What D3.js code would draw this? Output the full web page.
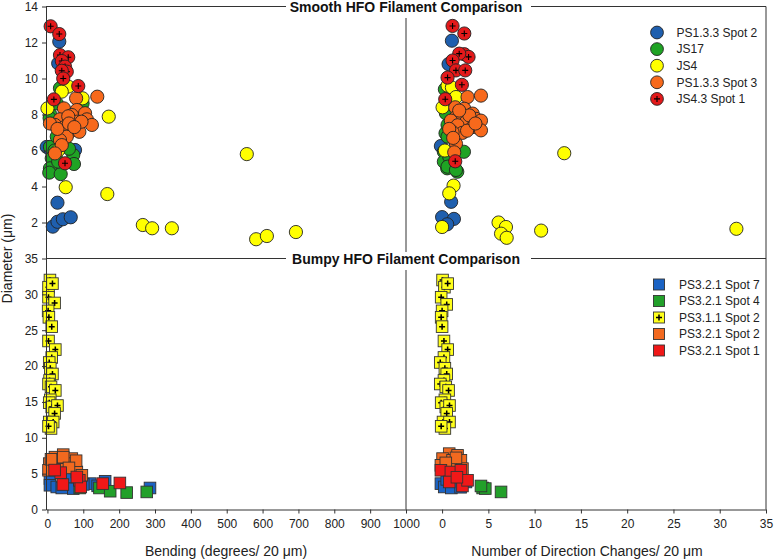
<!DOCTYPE html>
<html><head><meta charset="utf-8">
<script src="https://cdn.jsdelivr.net/npm/d3@7/dist/d3.min.js"></script>
<style>body{margin:0;background:#fff}svg{display:block;font-family:"Liberation Sans",Arial,sans-serif}</style>
</head><body><svg id="c" width="774" height="560"></svg>
<script>
// ---------- DATA ----------
const smoothNames = ["PS1.3.3 Spot 2","JS17","JS4","PS1.3.3 Spot 3","JS4.3 Spot 1"];
const bumpyNames = ["PS3.2.1 Spot 7","PS3.2.1 Spot 4","PS3.1.1 Spot 2","PS3.2.1 Spot 2","PS3.2.1 Spot 1"];
const colors = ["#1f5fae","#1fa324","#ffff00","#f7691c","#e3191a"];
const bumpyColors = ["#1b63c4","#22a02a","#ffff1a","#f2691f","#f01818"];
const smoothTicksY = [2,4,6,8,10,12,14];
const bumpyTicksY = [0,5,10,15,20,25,30,35];
const bendTicks = [0,100,200,300,400,500,600,700,800,900,1000];
const dirTicks = [0,5,10,15,20,25,30,35];

// Smooth, bending vs diameter
const sBend_PS133S2 = [[33,12.05],[30,10.84],[-2,6.2],[77,6.03],[28,3.1],[15,1.77],[28,2.04],[43,2.18],[65,2.29],[10,6.0],[20,5.9]];
const sBend_JS17 = [[35,9.46],[26,8.62],[98,8.62],[9,7.97],[6,7.8],[7,6.2],[12,5.57],[7,5.01],[5,4.77],[37,4.69],[30,5.38],[72,5.75],[74,5.25],[26,6.77],[20,6.0],[60,6.1]];
const sBend_JS4 = [[171,7.88],[556,5.8],[167,3.58],[266,1.86],[292,1.68],[347,1.68],[582,1.07],[612,1.25],[693,1.47],[51,3.96],[0,8.34],[58,9.55],[40,9.27],[98,8.9],[30,6.0]];
const sBend_PS133S3 = [[139,8.99],[80,8.9],[46,8.34],[82,8.25],[105,8.07],[68,7.97],[35,7.73],[110,7.73],[82,7.6],[124,7.42],[21,7.42],[7,7.5],[49,7.32],[65,7.08],[89,7.04],[40,6.96],[54,6.77],[35,6.58],[40,6.3],[21,5.84],[58,7.9],[95,7.6],[28,7.2],[60,7.5],[75,7.3]];
const sBend_JS43S1 = [[9,12.9],[33,12.47],[35,11.3],[58,11.18],[40,10.97],[49,10.66],[54,10.38],[40,10.43],[44,10.0],[86,9.58],[18,8.84],[49,5.29]];

// Smooth, direction changes vs diameter
const sDir_PS133S2 = [[1.06,12.1],[0.7,10.8],[-0.13,6.25],[0.98,3.15],[0,2.3],[1.28,2.2],[0.55,1.9],[1.5,6.0]];
const sDir_JS17 = [[0.37,6.96],[0.19,5.93],[2.36,5.93],[0.55,5.01],[1.64,4.82],[1.09,5.29],[0.19,5.38],[0.59,7.42],[0.41,8.07],[0.59,6.77],[0.77,5.66],[0.59,5.1],[1.5,4.92],[0.3,9.4],[0.8,8.6]];
const sDir_JS4 = [[13.2,5.85],[6.1,2.0],[6.9,1.75],[6.37,1.38],[6.98,1.15],[10.7,1.55],[31.8,1.65],[0,1.75],[1.24,4.05],[0.77,3.62],[0.05,8.4],[0.59,9.6],[1.06,9.5],[1.5,8.97],[0.3,6.0]];
const sDir_PS133S3 = [[4.2,9.05],[2.75,8.97],[1.42,8.4],[2.4,8.32],[3.3,8.05],[1.5,7.86],[3.66,7.76],[2.0,7.66],[2.58,7.58],[0.95,7.66],[4.2,7.66],[1.67,7.4],[3.3,7.3],[4.2,7.12],[2.2,6.98],[1.13,7.02],[1.5,6.38],[1.31,5.9],[0.77,7.2],[2.94,7.95],[1.85,8.22],[2.7,7.1],[3.6,7.5],[1.2,6.7]];
const sDir_JS43S1 = [[1.13,12.92],[2.4,12.5],[2.4,11.35],[2.86,11.2],[1.85,11.38],[1.13,11.0],[1.5,10.45],[2.5,10.45],[0.59,10.05],[2.14,9.65],[0.34,8.85],[1.42,5.4]];

// Bumpy, bending vs diameter
const bBend_S7 = [[7,4.31],[7,3.38],[26,3.14],[63,3.38],[72,2.92],[119,3.61],[161,3.94],[286,3.0],[58,4.53],[40,3.0],[100,3.5],[140,3.3]];
const bBend_S4 = [[145,3.0],[175,2.55],[221,2.36],[277,2.45],[90,3.0]];
const bBend_PS311S2 = [[7,32.0],[3,31.0],[14,31.5],[3,29.6],[20,28.8],[2,27.7],[4,26.8],[12,25.5],[3,23.5],[22,22.3],[12,21.2],[5,20.5],[8,19.7],[14,18.9],[6,18.0],[3,17.5],[10,17.1],[22,16.6],[8,15.3],[5,14.9],[12,14.3],[28,14.5],[20,13.4],[5,12.2],[16,12.2],[10,11.3],[3,11.6]];
const bBend_S2 = [[21,7.3],[44,7.65],[68,7.1],[5,6.4],[26,6.26],[65,6.26],[3,5.47],[82,5.23],[96,4.77],[54,6.4],[21,6.85],[44,7.3],[80,6.8],[35,5.6],[60,5.8],[10,7.0]];
const bBend_S1 = [[37,5.14],[43,3.48],[89,4.07],[93,3.14],[154,3.61],[202,3.7],[82,4.53],[20,5.5]];

// Bumpy, direction changes vs diameter
const bDir_S7 = [[-0.13,3.61],[0.23,3.14],[1.5,3.38],[2.58,3.84],[0.5,4.2],[1.0,3.0],[2.0,3.1]];
const bDir_S4 = [[4.38,3.0],[4.67,2.92],[6.37,2.45],[4.2,3.28]];
const bDir_PS311S2 = [[0.05,32.0],[0.25,31.0],[0.6,31.5],[-0.1,29.6],[0.5,28.6],[0,27.7],[-0.1,26.8],[0,25.5],[0.2,23.5],[0.6,22.3],[0.2,21.2],[-0.2,20.5],[0.3,19.7],[0.5,18.9],[0.2,18.0],[-0.2,17.5],[0.4,17.1],[0.7,16.6],[0.3,15.3],[-0.1,14.9],[0.4,14.3],[0.8,14.5],[0.5,13.4],[0.1,12.2],[0.8,12.2],[0.3,11.3],[-0.1,11.6]];
const bDir_S2 = [[0.77,7.79],[1.67,7.55],[0.05,7.1],[1.13,6.86],[2.03,6.86],[-0.13,6.16],[0.95,5.93],[2.2,5.7],[1.5,7.2],[0.4,6.5]];
const bDir_S1 = [[-0.13,5.47],[0.95,5.23],[2.03,5.47],[0.77,3.84],[2.2,3.28],[2.75,4.07],[1.6,4.5]];

// ---------- CHART ----------
const svg = d3.select("#c");
const L = 46, M = 406, R = 766, T = 6.5, MID = 258.5, B = 509.5;
const xBend = d3.scaleLinear().domain([-4,1000]).range([L,M]);
const xDir = d3.scaleLinear().domain([-3.9,35]).range([M,R]);
const yS = d3.scaleLinear().domain([0,14]).range([MID,T]);
const yB = d3.scaleLinear().domain([0,35]).range([B,MID]);
const lineCol = "#333", txtCol = "#222";

const pts = svg.append("g");
function drawCircles(data, xs, ys, col, plus){
  const g = pts.append("g");
  data.forEach(d=>{
    const cx = xs(d[0]), cy = ys(d[1]);
    g.append("circle").attr("cx",cx).attr("cy",cy).attr("r",6.6)
      .attr("fill",col).attr("stroke","#222").attr("stroke-width",0.9);
    if(plus){
      g.append("path").attr("d",`M${cx-3},${cy}H${cx+3}M${cx},${cy-3}V${cy+3}`)
        .attr("stroke","#000").attr("stroke-width",1.1);
    }
  });
}
function drawSquares(data, xs, ys, col, plus){
  const g = pts.append("g");
  data.forEach(d=>{
    const cx = xs(d[0]), cy = ys(d[1]);
    g.append("rect").attr("x",cx-5.8).attr("y",cy-5.8).attr("width",11.6).attr("height",11.6)
      .attr("fill",col).attr("stroke","#333").attr("stroke-width",0.9);
    if(plus){
      g.append("path").attr("d",`M${cx-3},${cy}H${cx+3}M${cx},${cy-3}V${cy+3}`)
        .attr("stroke","#000").attr("stroke-width",1.5);
    }
  });
}
const sB = [sBend_PS133S2,sBend_JS17,sBend_JS4,sBend_PS133S3,sBend_JS43S1];
const sD = [sDir_PS133S2,sDir_JS17,sDir_JS4,sDir_PS133S3,sDir_JS43S1];
const bB = [bBend_S7,bBend_S4,bBend_PS311S2,bBend_S2,bBend_S1];
const bD = [bDir_S7,bDir_S4,bDir_PS311S2,bDir_S2,bDir_S1];
sB.forEach((d,i)=>drawCircles(d,xBend,yS,colors[i],i===4));
sD.forEach((d,i)=>drawCircles(d,xDir,yS,colors[i],i===4));
bB.forEach((d,i)=>drawSquares(d,xBend,yB,bumpyColors[i],i===2));
bD.forEach((d,i)=>drawSquares(d,xDir,yB,bumpyColors[i],i===2));

// frame lines
const fr = svg.append("g").attr("stroke",lineCol).attr("stroke-width",1).attr("fill","none");
fr.append("line").attr("x1",L).attr("x2",R).attr("y1",T).attr("y2",T);
fr.append("line").attr("x1",L).attr("x2",R).attr("y1",MID).attr("y2",MID);
fr.append("line").attr("x1",R).attr("x2",R).attr("y1",T).attr("y2",B);
fr.append("line").attr("x1",M).attr("x2",M).attr("y1",T).attr("y2",B);

// axes
function styleAxis(g){
  g.selectAll("path,line").attr("stroke",lineCol);
  g.selectAll("text").attr("fill",txtCol).style("font-size","12px").style("font-family",'"Liberation Sans",Arial,sans-serif');
}
const fmt = d3.format("d");
svg.append("g").attr("transform",`translate(${L},0)`)
  .call(d3.axisLeft(yS).tickValues(smoothTicksY).tickFormat(fmt).tickSize(4).tickSizeOuter(0).tickPadding(4))
  .call(styleAxis);
svg.append("g").attr("transform",`translate(${L},0)`)
  .call(d3.axisLeft(yB).tickValues(bumpyTicksY).tickFormat(fmt).tickSize(4).tickSizeOuter(0).tickPadding(4))
  .call(styleAxis);
svg.append("g").attr("transform",`translate(0,${B})`)
  .call(d3.axisBottom(xBend).tickValues(bendTicks).tickFormat(fmt).tickSize(4).tickSizeOuter(0).tickPadding(6))
  .call(styleAxis);
svg.append("g").attr("transform",`translate(0,${B})`)
  .call(d3.axisBottom(xDir).tickValues(dirTicks).tickFormat(fmt).tickSize(4).tickSizeOuter(0).tickPadding(6))
  .call(styleAxis);

// titles with gaps
function panelTitle(text, y){
  svg.append("rect").attr("x",286).attr("y",y-6.5).attr("width",245).attr("height",18).attr("fill","#fff");
  svg.append("text").attr("x",406).attr("y",y+5.5).attr("text-anchor","middle")
    .style("font-size","14px").style("font-weight","bold").attr("fill","#111").text(text);
}
panelTitle("Smooth HFO Filament Comparison", T);
panelTitle("Bumpy HFO Filament Comparison", MID);

// axis titles
svg.append("text").attr("transform",`translate(12,${MID}) rotate(-90)`).attr("text-anchor","middle")
  .style("font-size","14px").attr("fill",txtCol).text("Diameter (μm)");
svg.append("text").attr("x",226).attr("y",556).attr("text-anchor","middle")
  .style("font-size","14px").attr("fill",txtCol).text("Bending (degrees/ 20 μm)");
svg.append("text").attr("x",587).attr("y",556).attr("text-anchor","middle")
  .style("font-size","14px").attr("fill",txtCol).text("Number of Direction Changes/ 20 μm");

// legends
const lgS = svg.append("g");
smoothNames.forEach((n,i)=>{
  const y = 32.5 + i*16.6;
  lgS.append("circle").attr("cx",657).attr("cy",y).attr("r",6.4).attr("fill",colors[i]).attr("stroke","#222").attr("stroke-width",0.9);
  if(i===4) lgS.append("path").attr("d",`M${654},${y}H${660}M${657},${y-3}V${y+3}`).attr("stroke","#000").attr("stroke-width",1.1);
  lgS.append("text").attr("x",676.5).attr("y",y+4.3).style("font-size","12px").attr("fill",txtCol).text(n);
});
const lgB = svg.append("g");
bumpyNames.forEach((n,i)=>{
  const y = 284.5 + i*16.5;
  lgB.append("rect").attr("x",659-5.5).attr("y",y-5.5).attr("width",11).attr("height",11).attr("fill",bumpyColors[i]).attr("stroke","#333").attr("stroke-width",0.9);
  if(i===2) lgB.append("path").attr("d",`M${656},${y}H${662}M${659},${y-3}V${y+3}`).attr("stroke","#000").attr("stroke-width",1.5);
  lgB.append("text").attr("x",679).attr("y",y+4.3).style("font-size","12px").attr("fill",txtCol).text(n);
});
</script></body></html>
